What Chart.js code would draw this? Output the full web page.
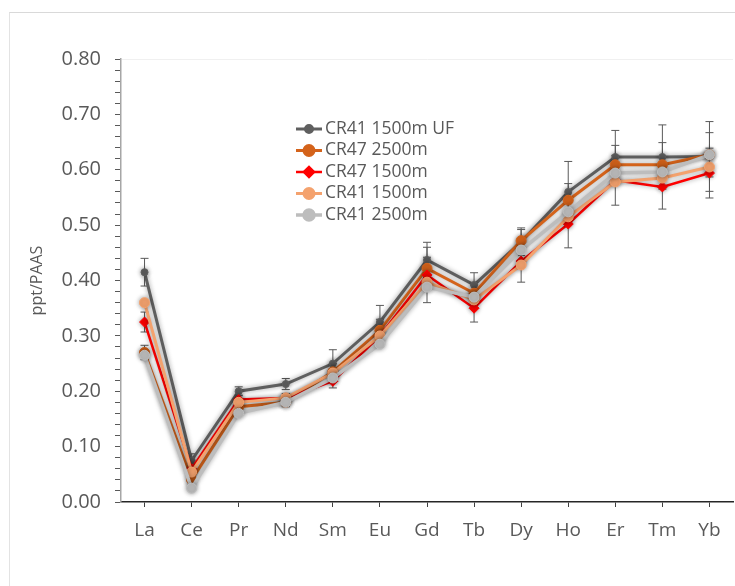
<!DOCTYPE html>
<html>
<head>
<meta charset="utf-8">
<script src="https://cdn.jsdelivr.net/npm/chart.js@4/dist/chart.umd.min.js"></script>
<style>
  html, body { margin: 0; padding: 0; overflow: hidden; background: #fff; }
  #frame { position: absolute; left: 9px; top: 12px; width: 800px; height: 600px;
           border-left: 1px solid #e3e3e3; border-top: 1px solid #d9d9d9; }
  #chart { position: absolute; left: 0; top: 0; }
</style>
</head>
<body>
<div id="frame"></div>
<canvas id="chart" width="739" height="586"></canvas>
<script>
// REE elements along the x axis
const elements = ['La', 'Ce', 'Pr', 'Nd', 'Sm', 'Eu', 'Gd', 'Tb', 'Dy', 'Ho', 'Er', 'Tm', 'Yb'];

const seriesNames = ['CR41 1500m UF', 'CR47 2500m', 'CR47 1500m', 'CR41 1500m', 'CR41 2500m'];

// ppt/PAAS values
const cr41_1500_uf = [0.415, 0.075, 0.200, 0.213, 0.250, 0.325, 0.437, 0.392, 0.470, 0.560, 0.623, 0.623, 0.624];
const cr47_2500    = [0.270, 0.040, 0.172, 0.180, 0.235, 0.310, 0.422, 0.377, 0.472, 0.545, 0.609, 0.609, 0.627];
const cr47_1500    = [0.325, 0.060, 0.185, 0.188, 0.218, 0.300, 0.410, 0.350, 0.435, 0.502, 0.581, 0.569, 0.594];
const cr41_1500    = [0.360, 0.054, 0.180, 0.188, 0.233, 0.300, 0.397, 0.365, 0.428, 0.515, 0.578, 0.585, 0.605];
const cr41_2500    = [0.265, 0.025, 0.160, 0.180, 0.224, 0.285, 0.388, 0.370, 0.455, 0.524, 0.594, 0.596, 0.627];

// error bar half widths
const err_uf   = [0.025, 0.012, 0.008, 0.010, 0.025, 0.030, 0.032, 0.022, 0.025, 0.055, 0.048, 0.058, 0.063];
const err_4725 = [0.013, 0.010, 0.008, 0.008, 0.015, 0.020, 0.020, 0.015, 0.020, 0.030, 0.035, 0.040, 0.040];
const err_4715 = [0.018, 0.010, 0.008, 0.008, 0.012, 0.020, 0.050, 0.025, 0.038, 0.043, 0.045, 0.040, 0.045];

const colors = ['#5f5f5f', '#d4631b', '#ff0000', '#f4a26e', '#bdbdbd'];
const styles = ['circle', 'circle', 'rectRot', 'circle', 'circle'];
const radii = [3.5, 5, 5, 5, 5];
const widths = [3, 3, 2.5, 3, 3.5];
const values = [cr41_1500_uf, cr47_2500, cr47_1500, cr41_1500, cr41_2500];
const errors = [err_uf, err_4725, err_4715, null, null];

const TXT = '#595959';
const FONT = '"Open Sans", "Noto Sans", sans-serif';

const datasets = seriesNames.map((name, i) => ({
    label: name,
    data: values[i],
    err: errors[i],
    borderColor: colors[i],
    backgroundColor: colors[i],
    borderWidth: widths[i],
    pointStyle: styles[i],
    pointRadius: radii[i],
    pointBorderWidth: 1,
    tension: 0,
    order: 4 - i
}));

// soft glow like the original
const glow = {
    id: 'glow',
    beforeDatasetDraw(chart) {
        const ctx = chart.ctx;
        ctx.save();
        ctx.shadowColor = 'rgba(0,0,0,0.4)';
        ctx.shadowBlur = 5;
    },
    afterDatasetDraw(chart) {
        chart.ctx.restore();
    }
};

const errorBars = {
    id: 'errorBars',
    beforeDatasetsDraw(chart) {
        const { ctx, scales: { x, y } } = chart;
        ctx.save();
        ctx.strokeStyle = '#595959';
        ctx.lineWidth = 1;
        chart.data.datasets.forEach(ds => {
            if (!ds.err) return;
            ds.data.forEach((v, j) => {
                const px = x.getPixelForValue(j);
                const top = y.getPixelForValue(v + ds.err[j]);
                const bot = y.getPixelForValue(v - ds.err[j]);
                ctx.beginPath();
                ctx.moveTo(px, top); ctx.lineTo(px, bot);
                ctx.moveTo(px - 4, top); ctx.lineTo(px + 4, top);
                ctx.moveTo(px - 4, bot); ctx.lineTo(px + 4, bot);
                ctx.stroke();
            });
        });
        ctx.restore();
    }
};

const innerLegend = {
    id: 'innerLegend',
    afterDraw(chart) {
        const ctx = chart.ctx;
        ctx.save();
        ctx.font = '17.5px ' + FONT;
        ctx.textBaseline = 'middle';
        chart.data.datasets.forEach((ds, i) => {
            const yy = 129 + i * 21.5;
            ctx.strokeStyle = ds.borderColor;
            ctx.lineWidth = ds.borderWidth;
            ctx.beginPath();
            ctx.moveTo(296, yy); ctx.lineTo(322, yy);
            ctx.stroke();
            ctx.fillStyle = ds.backgroundColor;
            Chart.helpers.drawPoint(ctx, {
                pointStyle: ds.pointStyle, rotation: 0,
                radius: ds.pointRadius, borderWidth: 1
            }, 309, yy);
            ctx.fillStyle = TXT;
            ctx.fillText(ds.label, 325, yy);
        });
        ctx.restore();
    }
};

new Chart(document.getElementById('chart'), {
    type: 'line',
    data: { labels: elements, datasets: datasets },
    options: {
        responsive: false,
        animation: false,
        layout: { padding: { top: 59, left: 0, right: 0, bottom: 0 } },
        plugins: { legend: { display: false }, tooltip: { enabled: false } },
        scales: {
            x: {
                offset: true,
                afterFit: s => { s.height = 84; },
                border: { color: '#262626', width: 1.5 },
                grid: { drawOnChartArea: false, offset: false, tickLength: 5, tickColor: '#404040' },
                ticks: { color: TXT, font: { size: 19, family: FONT }, padding: 12, autoSkip: false, maxRotation: 0 }
            },
            y: {
                min: 0,
                max: 0.8,
                afterFit: s => { s.width = 121; },
                border: { color: '#a6a6a6', width: 1.5 },
                grid: {
                    tickLength: 6,
                    tickColor: '#595959',
                    color: c => (Math.round(c.tick.value * 100) === 80) ? '#f0f0f0' : 'rgba(0,0,0,0)'
                },
                ticks: {
                    stepSize: 0.02,
                    maxTicksLimit: 50,
                    autoSkip: false,
                    color: TXT,
                    padding: 14,
                    font: { size: 20, family: FONT },
                    callback: v => Math.round(v * 100) % 10 === 0 ? v.toFixed(2) : ''
                },
                title: {
                    display: true,
                    text: 'ppt/PAAS',
                    color: TXT,
                    font: { size: 16, family: FONT },
                    padding: { top: 28, bottom: 0 }
                }
            }
        }
    },
    plugins: [glow, errorBars, innerLegend]
});
</script>
</body>
</html>
